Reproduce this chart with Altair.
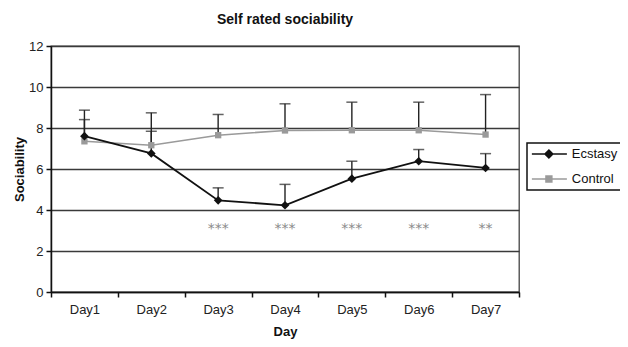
import altair as alt
import pandas as pd

days = ["Day1", "Day2", "Day3", "Day4", "Day5", "Day6", "Day7"]
ecstasy = [7.60, 6.76, 4.47, 4.23, 5.53, 6.38, 6.05]
ecstasy_upper = [8.41, 7.84, 5.08, 5.25, 6.38, 6.95, 6.75]
control = [7.35, 7.16, 7.65, 7.88, 7.89, 7.89, 7.68]
control_upper = [8.87, 8.74, 8.66, 9.18, 9.26, 9.26, 9.63]
stars = ["", "", "***", "***", "***", "***", "**"]
star_level = 3.24
series_names = ["Ecstasy", "Control"]
series_colors = ["#111111", "#9a9a9a"]

FONT = "Liberation Sans"

rows = []
for i, d in enumerate(days):
    rows.append({"day": d, "series": "Ecstasy", "value": ecstasy[i], "upper": ecstasy_upper[i]})
for i, d in enumerate(days):
    rows.append({"day": d, "series": "Control", "value": control[i], "upper": control_upper[i]})
df = pd.DataFrame(rows)
star_df = pd.DataFrame({"day": days, "stars": stars, "level": [star_level] * len(days)})

xscale = alt.Scale(type="band", domain=days, paddingInner=0, paddingOuter=0)
yscale = alt.Scale(domain=[0, 12], nice=False)

x_axis = alt.Axis(
    title="Day", tickBand="extent", labelAngle=0, labelFont=FONT, labelFontSize=13,
    labelColor="#222", labelPadding=6, tickSize=5, tickColor="#111", tickWidth=1.5,
    domainColor="#111", domainWidth=1.5, titleFont=FONT, titleFontSize=13,
    titleFontWeight="bold", titleColor="#111", titleY=39, titleBaseline="middle",
    grid=False,
)
y_axis = alt.Axis(
    title="Sociability", values=[0, 2, 4, 6, 8, 10, 12], labelFont=FONT, labelFontSize=13,
    labelColor="#222", labelPadding=3, tickSize=5, tickColor="#111", tickWidth=1.5,
    domainColor="#111", domainWidth=1.5, grid=True, gridColor="#3a3a3a", gridWidth=1.4,
    titleFont=FONT, titleFontSize=13, titleFontWeight="bold", titleColor="#111",
    titleX=-32, titleY=123, titleAngle=270, titleAlign="center", titleBaseline="middle",
)


def X():
    return alt.X("day:N", scale=xscale, bandPosition=0.5)


def Y(field="value"):
    return alt.Y(f"{field}:Q", scale=yscale)


base = alt.Chart(df)

axes_layer = base.mark_line(opacity=0).encode(
    x=alt.X("day:N", scale=xscale, axis=x_axis, bandPosition=0.5),
    y=alt.Y("value:Q", scale=yscale, axis=y_axis),
    detail="series:N",
)

control_line = base.transform_filter("datum.series == 'Control'").mark_line(
    color=series_colors[1], strokeWidth=1.6
).encode(x=X(), y=Y())

ecstasy_line = base.transform_filter("datum.series == 'Ecstasy'").mark_line(
    color=series_colors[0], strokeWidth=1.8
).encode(x=X(), y=Y())

control_pts = base.transform_filter("datum.series == 'Control'").mark_point(
    shape="square", filled=True, color=series_colors[1], size=40, opacity=1
).encode(x=X(), y=Y())

ecstasy_pts = base.transform_filter("datum.series == 'Ecstasy'").mark_point(
    shape="diamond", filled=True, color=series_colors[0], size=75, opacity=1
).encode(x=X(), y=Y())

err_rule = base.mark_rule(color="#222", strokeWidth=1.4).encode(
    x=X(), y=Y(), y2="upper:Q"
)
err_cap = base.mark_tick(color="#222", thickness=1.5, size=11, orient="horizontal").encode(
    x=alt.X("day:N", scale=xscale), y=Y("upper")
)

star_text = alt.Chart(star_df).mark_text(
    font="DejaVu Sans", fontSize=14, color="#8a8a8a", baseline="alphabetic", dy=7
).encode(x=X(), y=Y("level"), text="stars:N")

legend_paths = [
    "M-1,0H4.72M1.78,-0.65L2.43,0L1.78,0.65L1.13,0Z",
    "M-1,0H4.72M1.3,-0.48H2.26V0.48H1.3Z",
]
legend_layer = base.transform_filter("datum.value < -100").mark_point(
    strokeWidth=1.5, opacity=1
).encode(
    x=X(), y=Y(),
    fill=alt.Fill("series:N", scale=alt.Scale(domain=series_names, range=series_colors),
                  legend=alt.Legend(title=None)),
    stroke=alt.Stroke("series:N", scale=alt.Scale(domain=series_names, range=series_colors),
                      legend=alt.Legend(title=None)),
    shape=alt.Shape("series:N", scale=alt.Scale(domain=series_names, range=legend_paths),
                    legend=alt.Legend(title=None)),
)

chart = alt.layer(
    axes_layer, control_line, ecstasy_line, err_rule, err_cap,
    control_pts, ecstasy_pts, star_text, legend_layer,
).properties(
    width=468, height=246,
    title=alt.TitleParams("Self rated sociability", font=FONT, fontSize=14,
                          fontWeight="bold", color="#111", offset=13),
    autosize=alt.AutoSizeParams(type="none"),
    padding={"left": 43, "top": 38, "right": 101, "bottom": 47},
).configure_view(
    stroke="#444", strokeWidth=1.3
).configure_legend(
    orient="none", legendX=476, legendY=97, strokeColor="#111", strokeWidth=1.5,
    padding=4, labelFont=FONT, labelFontSize=13, labelColor="#111",
    symbolSize=150, symbolStrokeWidth=1.5, rowPadding=11, labelOffset=26.8,
    fillColor="white",
)

chart.save("out.html", embed_options={"renderer": "svg", "actions": False})
